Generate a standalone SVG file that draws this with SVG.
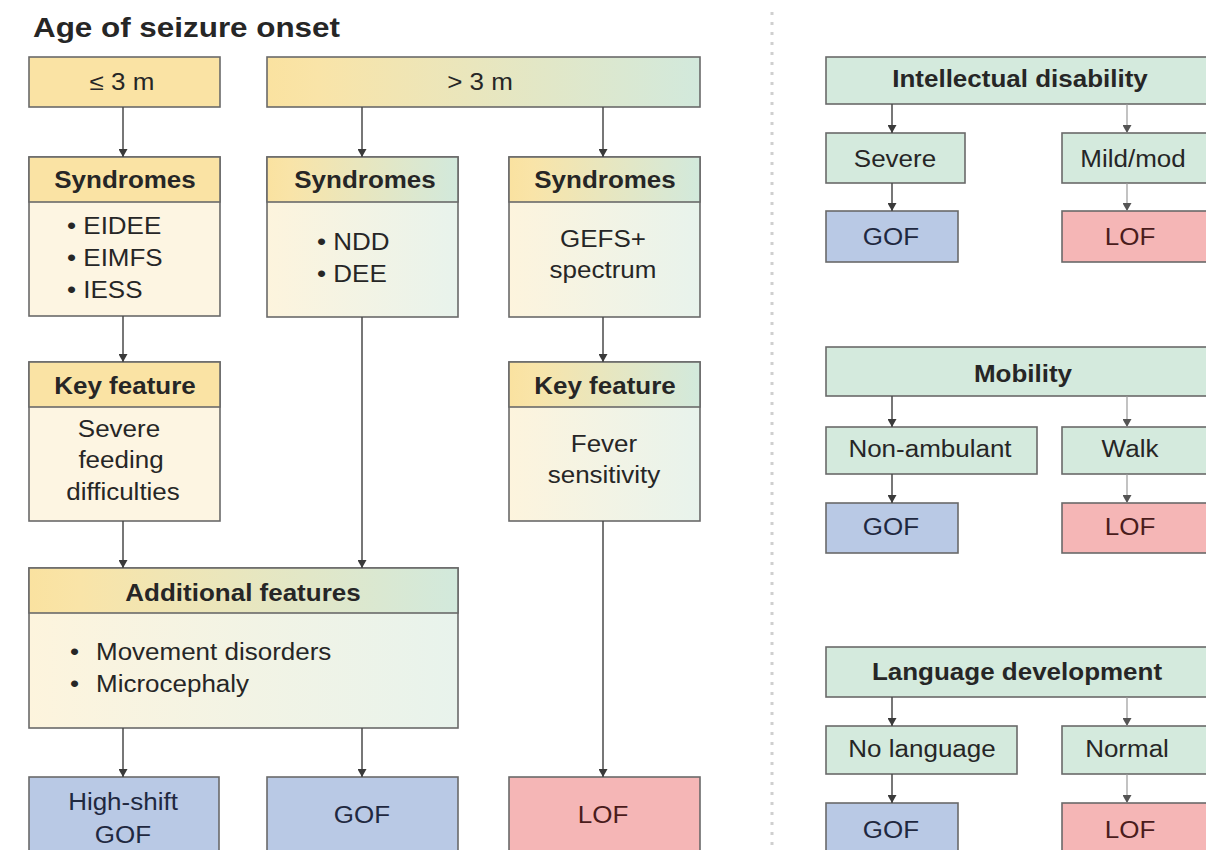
<svg xmlns="http://www.w3.org/2000/svg" width="1217" height="850" viewBox="0 0 1217 850">
<defs>
<linearGradient id="gHead" x1="0" y1="0" x2="1" y2="0"><stop offset="0" stop-color="#fae2a0"/><stop offset="0.12" stop-color="#f9e4a8"/><stop offset="1" stop-color="#d2e9dc"/></linearGradient>
<linearGradient id="gBody" x1="0" y1="0" x2="1" y2="0"><stop offset="0" stop-color="#fdf4dd"/><stop offset="1" stop-color="#e8f3ec"/></linearGradient>
<marker id="ah" viewBox="0 0 8 9" refX="8" refY="4.5" markerWidth="8" markerHeight="9" markerUnits="userSpaceOnUse" orient="auto"><path d="M0,0 L8,4.5 L0,9 z" fill="#3a3a3a"/></marker>
<marker id="ahl" viewBox="0 0 8 9" refX="8" refY="4.5" markerWidth="8" markerHeight="9" markerUnits="userSpaceOnUse" orient="auto"><path d="M0,0 L8,4.5 L0,9 z" fill="#555"/></marker>
<clipPath id="clipR"><rect x="0" y="0" width="1206" height="850"/></clipPath>
</defs>
<style>
.box{stroke:#6a6a6a;stroke-width:1.6}
.yh{fill:#fae3a4}.yb{fill:#fdf5e2}
.gh{fill:url(#gHead)}.gb{fill:url(#gBody)}
.gr{fill:#d4eadd}.bl{fill:#b9c9e5}.pk{fill:#f5b6b6}
text{font-family:"Liberation Sans",Arial,sans-serif;fill:#262626}
.b{font-weight:bold;font-size:23px}
.r{font-size:23px}
.t{font-weight:bold;font-size:27px}
.lof{fill:#4a1c1c}.gof{fill:#1f2840}
.conn line{stroke:#4a4a4a;stroke-width:1.5;marker-end:url(#ah)}
.conn line.light{stroke:#9a9a9a;stroke-width:1.2;marker-end:url(#ahl)}
</style>
<rect width="1217" height="850" fill="#ffffff"/>
<text class="t" x="33" y="37" textLength="307" lengthAdjust="spacingAndGlyphs">Age of seizure onset</text>
<line x1="772" y1="12" x2="772" y2="850" stroke="#cfcfcf" stroke-width="3" stroke-dasharray="3 7"/>

<g id="le3m"><rect class="box yh" x="29" y="57" width="191" height="50"/><text class="r" transform="translate(122 90) scale(1.13 1)" text-anchor="middle">≤ 3 m</text></g>
<g id="gt3m"><rect class="box gh" x="267" y="57" width="433" height="50"/><text class="r" transform="translate(480 90) scale(1.13 1)" text-anchor="middle">&gt; 3 m</text></g>

<g id="syn1"><rect class="box yb" x="29" y="157" width="191" height="159"/><rect class="box yh" x="29" y="157" width="191" height="45"/>
<text class="b" transform="translate(125 188) scale(1.13 1)" text-anchor="middle">Syndromes</text>
<text class="r" transform="translate(67 234) scale(1.13 1)">• EIDEE</text>
<text class="r" transform="translate(67 266) scale(1.13 1)">• EIMFS</text>
<text class="r" transform="translate(67 298) scale(1.13 1)">• IESS</text></g>

<g id="syn2"><rect class="box gb" x="267" y="157" width="191" height="160"/><rect class="box gh" x="267" y="157" width="191" height="45"/>
<text class="b" transform="translate(365 188) scale(1.13 1)" text-anchor="middle">Syndromes</text>
<text class="r" transform="translate(317 250) scale(1.13 1)">• NDD</text>
<text class="r" transform="translate(317 282) scale(1.13 1)">• DEE</text></g>

<g id="syn3"><rect class="box gb" x="509" y="157" width="191" height="160"/><rect class="box gh" x="509" y="157" width="191" height="45"/>
<text class="b" transform="translate(605 188) scale(1.13 1)" text-anchor="middle">Syndromes</text>
<text class="r" transform="translate(603 247) scale(1.13 1)" text-anchor="middle">GEFS+</text>
<text class="r" transform="translate(603 278) scale(1.13 1)" text-anchor="middle">spectrum</text></g>

<g id="key1"><rect class="box yb" x="29" y="362" width="191" height="159"/><rect class="box yh" x="29" y="362" width="191" height="45"/>
<text class="b" transform="translate(125 394) scale(1.13 1)" text-anchor="middle">Key feature</text>
<text class="r" transform="translate(119 437) scale(1.13 1)" text-anchor="middle">Severe</text>
<text class="r" transform="translate(121 468) scale(1.13 1)" text-anchor="middle">feeding</text>
<text class="r" transform="translate(123 500) scale(1.13 1)" text-anchor="middle">difficulties</text></g>

<g id="key3"><rect class="box gb" x="509" y="362" width="191" height="159"/><rect class="box gh" x="509" y="362" width="191" height="45"/>
<text class="b" transform="translate(605 394) scale(1.13 1)" text-anchor="middle">Key feature</text>
<text class="r" transform="translate(604 452) scale(1.13 1)" text-anchor="middle">Fever</text>
<text class="r" transform="translate(604 483) scale(1.13 1)" text-anchor="middle">sensitivity</text></g>

<g id="addl"><rect class="box gb" x="29" y="568" width="429" height="160"/><rect class="box gh" x="29" y="568" width="429" height="45"/>
<text class="b" transform="translate(243 601) scale(1.13 1)" text-anchor="middle">Additional features</text>
<text class="r" transform="translate(70 660) scale(1.13 1)">•</text>
<text class="r" transform="translate(96 660) scale(1.13 1)">Movement disorders</text>
<text class="r" transform="translate(70 692) scale(1.13 1)">•</text>
<text class="r" transform="translate(96 692) scale(1.13 1)">Microcephaly</text></g>

<g id="hsgof"><rect class="box bl" x="29" y="777" width="190" height="90"/>
<text class="r gof" transform="translate(123 810) scale(1.13 1)" text-anchor="middle">High-shift</text>
<text class="r gof" transform="translate(123 843) scale(1.13 1)" text-anchor="middle">GOF</text></g>
<g id="gof1"><rect class="box bl" x="267" y="777" width="191" height="90"/><text class="r gof" transform="translate(362 823) scale(1.13 1)" text-anchor="middle">GOF</text></g>
<g id="lof1"><rect class="box pk" x="509" y="777" width="191" height="90"/><text class="r lof" transform="translate(603 823) scale(1.13 1)" text-anchor="middle">LOF</text></g>

<g clip-path="url(#clipR)">
<g id="id"><rect class="box gr" x="826" y="57" width="420" height="47"/><text class="b" transform="translate(1020 87) scale(1.13 1)" text-anchor="middle">Intellectual disability</text></g>
<g id="severe"><rect class="box gr" x="826" y="133" width="139" height="50"/><text class="r" transform="translate(895 167) scale(1.13 1)" text-anchor="middle">Severe</text></g>
<g id="mild"><rect class="box gr" x="1062" y="133" width="200" height="50"/><text class="r" transform="translate(1133 167) scale(1.13 1)" text-anchor="middle">Mild/mod</text></g>
<g id="gof2"><rect class="box bl" x="826" y="211" width="132" height="51"/><text class="r gof" transform="translate(891 245) scale(1.13 1)" text-anchor="middle">GOF</text></g>
<g id="lof2"><rect class="box pk" x="1062" y="211" width="200" height="51"/><text class="r lof" transform="translate(1130 245) scale(1.13 1)" text-anchor="middle">LOF</text></g>

<g id="mob"><rect class="box gr" x="826" y="347" width="420" height="49"/><text class="b" transform="translate(1023 382) scale(1.13 1)" text-anchor="middle">Mobility</text></g>
<g id="nonamb"><rect class="box gr" x="826" y="427" width="211" height="47"/><text class="r" transform="translate(930 457) scale(1.13 1)" text-anchor="middle">Non-ambulant</text></g>
<g id="walk"><rect class="box gr" x="1062" y="427" width="200" height="47"/><text class="r" transform="translate(1130 457) scale(1.13 1)" text-anchor="middle">Walk</text></g>
<g id="gof3"><rect class="box bl" x="826" y="503" width="132" height="50"/><text class="r gof" transform="translate(891 535) scale(1.13 1)" text-anchor="middle">GOF</text></g>
<g id="lof3"><rect class="box pk" x="1062" y="503" width="200" height="50"/><text class="r lof" transform="translate(1130 535) scale(1.13 1)" text-anchor="middle">LOF</text></g>

<g id="lang"><rect class="box gr" x="826" y="647" width="420" height="50"/><text class="b" transform="translate(1017 680) scale(1.13 1)" text-anchor="middle">Language development</text></g>
<g id="nolang"><rect class="box gr" x="826" y="726" width="191" height="48"/><text class="r" transform="translate(922 757) scale(1.13 1)" text-anchor="middle">No language</text></g>
<g id="normal"><rect class="box gr" x="1062" y="726" width="200" height="48"/><text class="r" transform="translate(1127 757) scale(1.13 1)" text-anchor="middle">Normal</text></g>
<g id="gof4"><rect class="box bl" x="826" y="803" width="132" height="70"/><text class="r gof" transform="translate(891 838) scale(1.13 1)" text-anchor="middle">GOF</text></g>
<g id="lof4"><rect class="box pk" x="1062" y="803" width="200" height="70"/><text class="r lof" transform="translate(1130 838) scale(1.13 1)" text-anchor="middle">LOF</text></g>
</g>

<g id="connectors" class="conn">
<line x1="123" y1="107" x2="123" y2="157"/>
<line x1="362" y1="107" x2="362" y2="157"/>
<line x1="603" y1="107" x2="603" y2="157"/>
<line x1="123" y1="316" x2="123" y2="362"/>
<line x1="603" y1="317" x2="603" y2="362"/>
<line x1="123" y1="521" x2="123" y2="568"/>
<line x1="362" y1="317" x2="362" y2="568"/>
<line x1="123" y1="728" x2="123" y2="777"/>
<line x1="362" y1="728" x2="362" y2="777"/>
<line x1="603" y1="521" x2="603" y2="777"/>
<line x1="892" y1="104" x2="892" y2="133"/>
<line class="light" x1="1127" y1="104" x2="1127" y2="133"/>
<line x1="892" y1="183" x2="892" y2="211"/>
<line class="light" x1="1127" y1="183" x2="1127" y2="211"/>
<line x1="892" y1="396" x2="892" y2="427"/>
<line class="light" x1="1127" y1="396" x2="1127" y2="427"/>
<line x1="892" y1="474" x2="892" y2="503"/>
<line class="light" x1="1127" y1="474" x2="1127" y2="503"/>
<line x1="892" y1="697" x2="892" y2="726"/>
<line class="light" x1="1127" y1="697" x2="1127" y2="726"/>
<line x1="892" y1="774" x2="892" y2="803"/>
<line class="light" x1="1127" y1="774" x2="1127" y2="803"/>
</g>
</svg>
